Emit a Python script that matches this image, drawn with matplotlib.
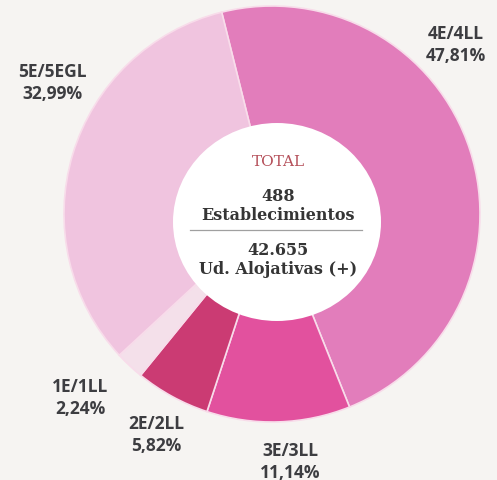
import matplotlib.pyplot as plt
from matplotlib.patches import Ellipse

W, H = 497, 481

categories = ["4E/4LL", "3E/3LL", "2E/2LL", "1E/1LL", "5E/5EGL"]
shares = [47.81, 11.14, 5.82, 2.24, 32.99]
pct_labels = ["47,81%", "11,14%", "5,82%", "2,24%", "32,99%"]
colors = ["#e27dbb", "#e2519e", "#cb3b73", "#f4e0ea", "#f0c4df"]

total_est = "488"
total_units = "42.655"

# label centres in pixels (x, y from top)
label_pos = [(456, 45), (290, 462), (156, 435), (80, 398), (52, 83)]


def py(y):
    return H - y


fig = plt.figure(figsize=(W / 100, H / 100), dpi=100)
fig.patch.set_facecolor("#f6f4f2")
ax = fig.add_axes([0, 0, 1, 1])

cx, cy, r_out = 272, 215, 208
ax.pie(shares, colors=colors, startangle=104, counterclock=False,
       center=(cx, py(cy)), radius=r_out,
       wedgeprops=dict(edgecolor="#f8dcea", linewidth=1.2))
# white hole, slightly off centre as in the print
ax.add_patch(Ellipse((277, py(223)), 208, 198, facecolor="white",
                     edgecolor="none", zorder=3))

ax.set_xlim(0, W)
ax.set_ylim(0, H)
ax.set_aspect("equal")
ax.axis("off")

for (x, y), cat, p in zip(label_pos, categories, pct_labels):
    ax.text(x, py(y), cat + "\n" + p, ha="center", va="center",
            fontsize=12.5, fontweight="bold", family="Open Sans",
            color="#3d3d41", linespacing=1.25)

serif = "DejaVu Serif"
tx = 278
ax.text(tx, py(162), "TOTAL", ha="center", va="center", fontsize=11,
        family=serif, color="#b5505a", zorder=4)
ax.text(tx, py(206), total_est + "\nEstablecimientos", ha="center", va="center",
        fontsize=11.5, fontweight="bold", family=serif, color="#353535",
        linespacing=1.12, zorder=4)
ax.plot([190, 362], [py(231), py(231)], color="#a0a0a0", lw=0.9, zorder=4)
ax.text(tx, py(260), total_units + "\nUd. Alojativas (+)", ha="center", va="center",
        fontsize=11.5, fontweight="bold", family=serif, color="#353535",
        linespacing=1.12, zorder=4)

fig.savefig("out.png", dpi=100, facecolor=fig.get_facecolor())
